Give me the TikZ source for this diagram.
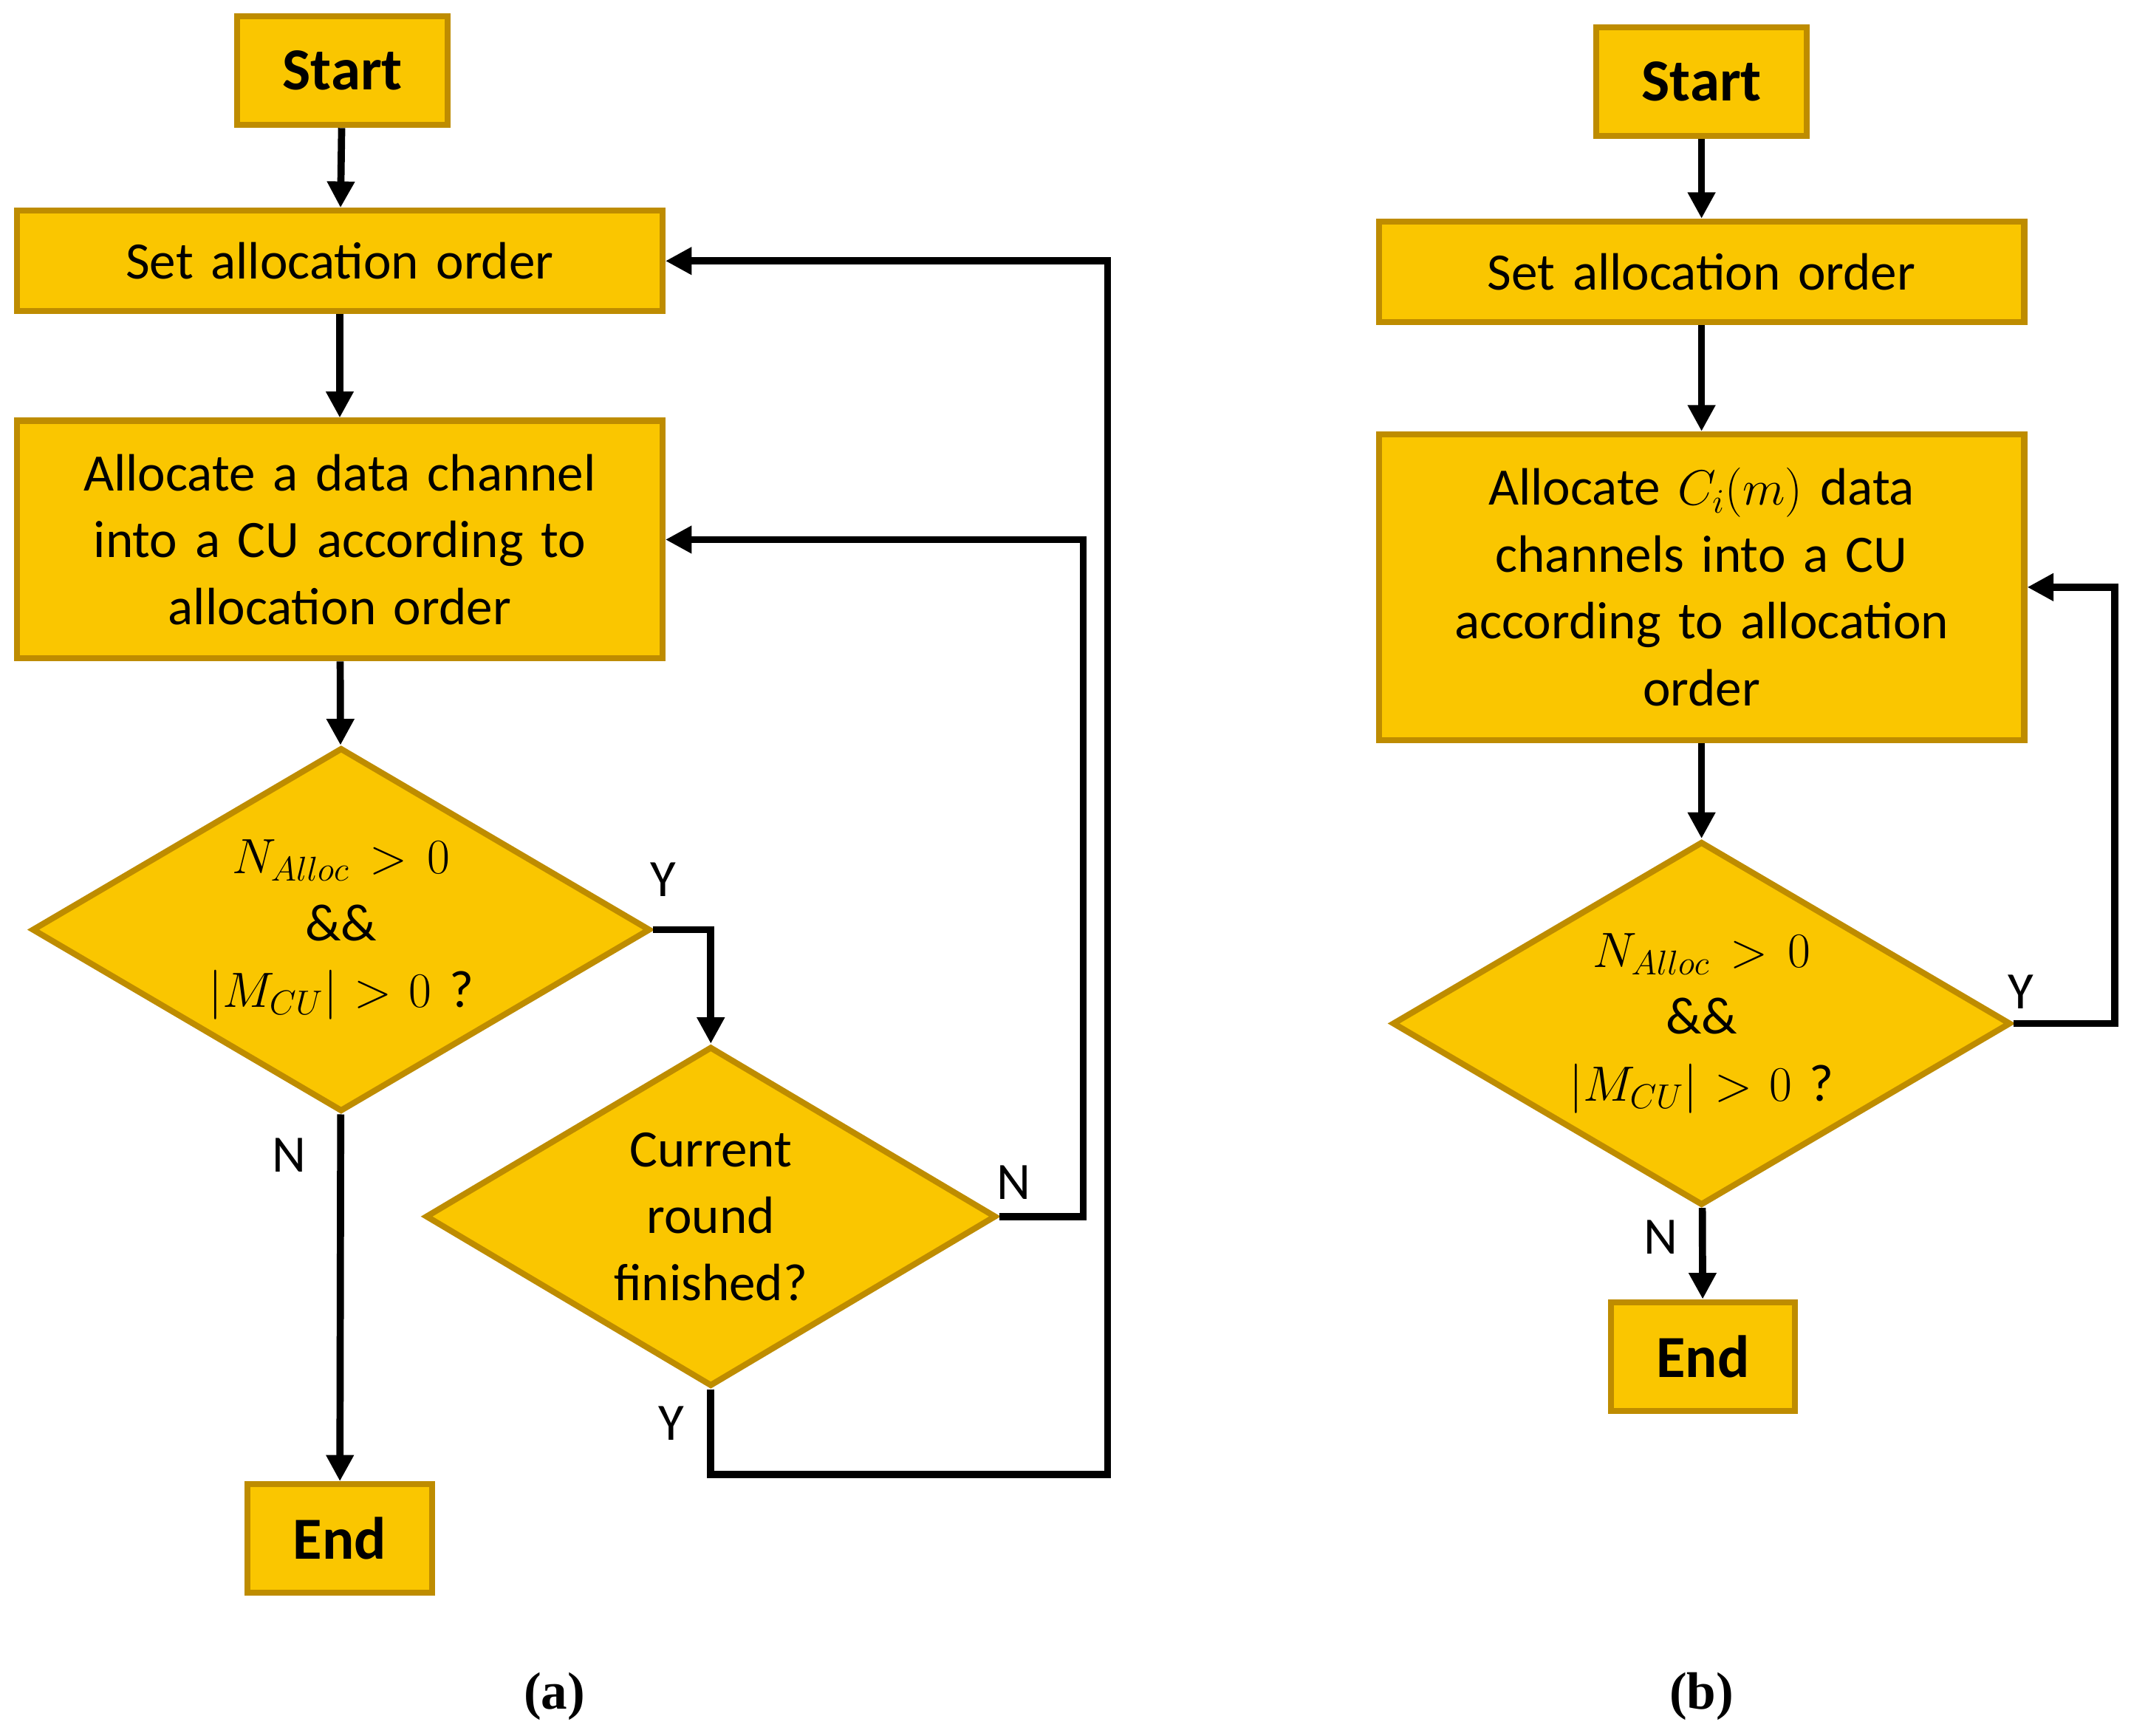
\documentclass[tikz,border=0pt]{standalone}
\usepackage{fontspec}
\setmainfont{Carlito}
\newfontfamily\capfont{Liberation Serif}
\usetikzlibrary{shapes.geometric,arrows.meta}
\definecolor{GoldFill}{RGB}{250,198,0}
\definecolor{GoldEdge}{RGB}{190,140,0}
\hyphenpenalty=10000

\begin{document}
\begin{tikzpicture}[x=0.02cm,y=-0.02cm,font=\fontsize{22}{28}\selectfont]
\tikzstyle{block} = [rectangle, draw=GoldEdge, fill=GoldFill, line width=2.5pt,
    align=center, inner sep=2pt]
\tikzstyle{term} = [block, font=\fontsize{25}{28}\selectfont\bfseries,
    minimum width=3.1cm, minimum height=1.6cm]
\tikzstyle{wide} = [block, text width=8.8cm, minimum width=9.5cm]
\tikzstyle{test} = [diamond, draw=GoldEdge, fill=GoldFill, line width=2.5pt,
    align=center, inner sep=0pt, shape aspect=1.7]
\tikzstyle{line} = [draw, line width=3pt, -{Triangle[length=11pt,width=11pt]}]

\useasboundingbox (0,0) rectangle (1568,1277);

% (a)
\node [term] (startA) at (252,52) {Start};
\node [wide, minimum height=1.48cm] (setA) at (250,192) {Set allocation order};
\node [wide, minimum height=3.5cm] (allocA) at (250,397)
    {Allocate a data channel\\ into a CU according to\\ allocation order};
\node [test, minimum width=8.36cm, minimum height=4.96cm, text width=4.6cm] (checkA) at (251,684)
    {$N_{Alloc}>0$\\ \&\& $|M_{CU}|>0$ ?};
\node [test, minimum width=8.4cm, minimum height=5cm, text width=3cm] (roundA) at (523,895)
    {Current\\ round\\ finished?};
\node [term, minimum width=2.72cm] (endA) at (250,1132) {End};
\coordinate (turnA) at (797,895);
\coordinate (loopA1) at (523,1085);
\coordinate (loopA2) at (815,1085);
\coordinate (downA) at (523,684);
%
\path [line] (startA) -- (setA);
\path [line] (setA) -- (allocA);
\path [line] (allocA) -- (checkA);
\path [line] (checkA.east) -- (downA) -- (roundA.north);
\path [line] (checkA) -- (endA);
\path [line] (roundA.east) -- (turnA) |- (allocA.east);
\path [line] (roundA.south) -- (loopA1) -- (loopA2) |- (setA.east);
\node (yA1) at (488,647) {Y};
\node (nA1) at (213,850) {N};
\node (nA2) at (746,870) {N};
\node (yA2) at (494,1047) {Y};
\node [font=\capfont\fontsize{22}{26}\selectfont\bfseries] (capA) at (408,1248) {(a)};

% (b)
\node [term] (startB) at (1252,60) {Start};
\node [wide, minimum height=1.48cm] (setB) at (1252,200) {Set allocation order};
\node [wide, minimum height=4.5cm] (allocB) at (1252,432)
    {Allocate $C_i(m)$ data\\ channels into a CU\\ according to allocation\\ order};
\node [test, minimum width=8.4cm, minimum height=5cm, text width=4.6cm] (checkB) at (1252,753)
    {$N_{Alloc}>0$\\ \&\& $|M_{CU}|>0$ ?};
\node [term, minimum width=2.7cm] (endB) at (1253,998) {End};
\coordinate (turnB) at (1556,753);
%
\path [line] (startB) -- (setB);
\path [line] (setB) -- (allocB);
\path [line] (allocB) -- (checkB);
\path [line] (checkB) -- (endB);
\path [line] (checkB.east) -- (turnB) |- (allocB.east);
\node (yB) at (1487,730) {Y};
\node (nB) at (1222,910) {N};
\node [font=\capfont\fontsize{22}{26}\selectfont\bfseries] (capB) at (1252,1248) {(b)};
\end{tikzpicture}
\end{document}
